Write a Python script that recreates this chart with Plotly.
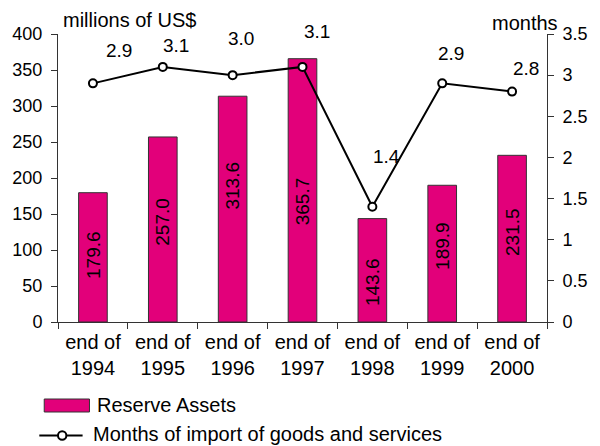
import plotly.graph_objects as go

# ---- data -------------------------------------------------------------
years = ["1994", "1995", "1996", "1997", "1998", "1999", "2000"]
reserve_assets = [179.6, 257.0, 313.6, 365.7, 143.6, 189.9, 231.5]   # millions of US$
import_months = [2.9, 3.1, 3.0, 3.1, 1.4, 2.9, 2.8]                 # months of import cover
left_ticks = [0, 50, 100, 150, 200, 250, 300, 350, 400]
right_ticks = [0, 0.5, 1, 1.5, 2, 2.5, 3, 3.5]

categories = [f"end of<br>{y}" for y in years]

# ---- styling / placement ---------------------------------------------
FONT = "Liberation Sans, Arial, sans-serif"
MAGENTA = "#E2007A"
EDGE = "#333333"
W, H = 600, 446
L, R, T, B = 58, 45, 34, 124
PW, PH = W - L - R, H - T - B

# vertical centre of each rotated value label inside its bar (left-axis units)
bar_label_mid = [93, 139, 189, 167, 56, 106, 125]
# pixel offsets of the months labels from their markers
month_label_shift = [(26, 33), (13, 21), (8, 37), (14, 35), (14, 50), (9, 30), (14, 23)]


def px_x(px):
    return (px - L) / PW


def px_y(py):
    return (T + PH - py) / PH


fig = go.Figure()

fig.add_trace(go.Bar(
    x=categories, y=reserve_assets, name="Reserve Assets",
    marker=dict(color=MAGENTA, line=dict(color=EDGE, width=1)),
    width=0.41, yaxis="y", showlegend=False, hoverinfo="x+y",
))

fig.add_trace(go.Scatter(
    x=categories, y=import_months, name="Months of import of goods and services",
    mode="lines+markers", yaxis="y2",
    line=dict(color="black", width=2),
    marker=dict(symbol="circle", size=8, color="white", line=dict(color="black", width=2)),
    showlegend=False,
))

annotations = []
for cat, v, mid in zip(categories, reserve_assets, bar_label_mid):
    annotations.append(dict(
        x=cat, y=mid, xref="x", yref="y", text=f"{v:.1f}", textangle=-90,
        showarrow=False, font=dict(family=FONT, size=19, color="black"),
        xanchor="center", yanchor="middle",
    ))
for cat, v, (dx, dy) in zip(categories, import_months, month_label_shift):
    annotations.append(dict(
        x=cat, y=v, xref="x", yref="y2", text=f"{v:.1f}",
        showarrow=False, xshift=dx, yshift=dy,
        font=dict(family=FONT, size=19, color="black"),
        xanchor="center", yanchor="middle",
    ))

# axis titles
annotations.append(dict(
    x=0, y=1, xref="paper", yref="paper", text="millions of US$",
    showarrow=False, xanchor="left", yanchor="middle", xshift=3, yshift=14,
    font=dict(family=FONT, size=20, color="black"),
))
annotations.append(dict(
    x=1, y=1, xref="paper", yref="paper", text="months",
    showarrow=False, xanchor="right", yanchor="middle", xshift=13, yshift=11,
    font=dict(family=FONT, size=20, color="black"),
))

# legend entries
annotations.append(dict(
    x=px_x(96), y=px_y(405), xref="paper", yref="paper", text="Reserve Assets",
    showarrow=False, xanchor="left", yanchor="middle",
    font=dict(family=FONT, size=20, color="black"),
))
annotations.append(dict(
    x=px_x(92), y=px_y(434), xref="paper", yref="paper",
    text="Months of import of goods and services",
    showarrow=False, xanchor="left", yanchor="middle",
    font=dict(family=FONT, size=20, color="black"),
))

shapes = [
    dict(type="rect", xref="paper", yref="paper",
         x0=px_x(44), x1=px_x(90), y0=px_y(412), y1=px_y(399),
         fillcolor=MAGENTA, line=dict(color=EDGE, width=1)),
    dict(type="line", xref="paper", yref="paper",
         x0=px_x(39), x1=px_x(83), y0=px_y(435.5), y1=px_y(435.5),
         line=dict(color="black", width=2)),
    dict(type="circle", xref="paper", yref="paper",
         x0=px_x(58), x1=px_x(66.5), y0=px_y(439.8), y1=px_y(431.3),
         fillcolor="white", line=dict(color="black", width=2)),
]

tick_font = dict(family=FONT, size=18, color="black")
boundaries = [i - 0.5 for i in range(len(categories) + 1)]

fig.update_layout(
    width=W, height=H, autosize=False,
    margin=dict(l=L, r=R, t=T, b=B, pad=0),
    paper_bgcolor="white", plot_bgcolor="white",
    bargap=0.5,
    xaxis=dict(
        type="category", range=[-0.5, len(categories) - 0.5],
        tickson="boundaries", ticks="outside", ticklen=6, tickwidth=1, tickcolor=EDGE,
        showline=True, linecolor=EDGE, linewidth=1, showgrid=False, zeroline=False,
        tickfont=dict(family=FONT, size=20, color="black"),
        ticklabelstandoff=2,
    ),
    xaxis2=dict(
        overlaying="x", anchor="y", side="bottom",
        range=[-0.5, len(categories) - 0.5],
        tickmode="array", tickvals=boundaries, ticks="inside", ticklen=6,
        tickwidth=1, tickcolor=EDGE, showticklabels=False,
        showline=False, showgrid=False, zeroline=False,
    ),
    yaxis=dict(
        range=[0, 400], tickmode="array", tickvals=left_ticks,
        ticks="outside", ticklen=6, tickwidth=1, tickcolor=EDGE,
        showline=True, linecolor=EDGE, linewidth=1, showgrid=False, zeroline=False,
        tickfont=tick_font, ticklabelstandoff=5,
    ),
    yaxis2=dict(
        overlaying="y", side="right", anchor="x",
        range=[0, 3.5], tickmode="array", tickvals=right_ticks,
        ticktext=[f"{t:g}" for t in right_ticks],
        ticks="outside", ticklen=6, tickwidth=1, tickcolor=EDGE,
        showline=True, linecolor=EDGE, linewidth=1, showgrid=False, zeroline=False,
        tickfont=tick_font, ticklabelstandoff=5,
    ),
    yaxis3=dict(
        overlaying="y", side="left", anchor="x",
        range=[0, 400], tickmode="array", tickvals=left_ticks,
        ticks="inside", ticklen=6, tickwidth=1, tickcolor=EDGE,
        showticklabels=False, showline=False, showgrid=False, zeroline=False,
    ),
    yaxis4=dict(
        overlaying="y", side="right", anchor="x",
        range=[0, 3.5], tickmode="array", tickvals=right_ticks,
        ticks="inside", ticklen=6, tickwidth=1, tickcolor=EDGE,
        showticklabels=False, showline=False, showgrid=False, zeroline=False,
    ),
    annotations=annotations,
    shapes=shapes,
    showlegend=False,
)

fig.write_html("out.html")
